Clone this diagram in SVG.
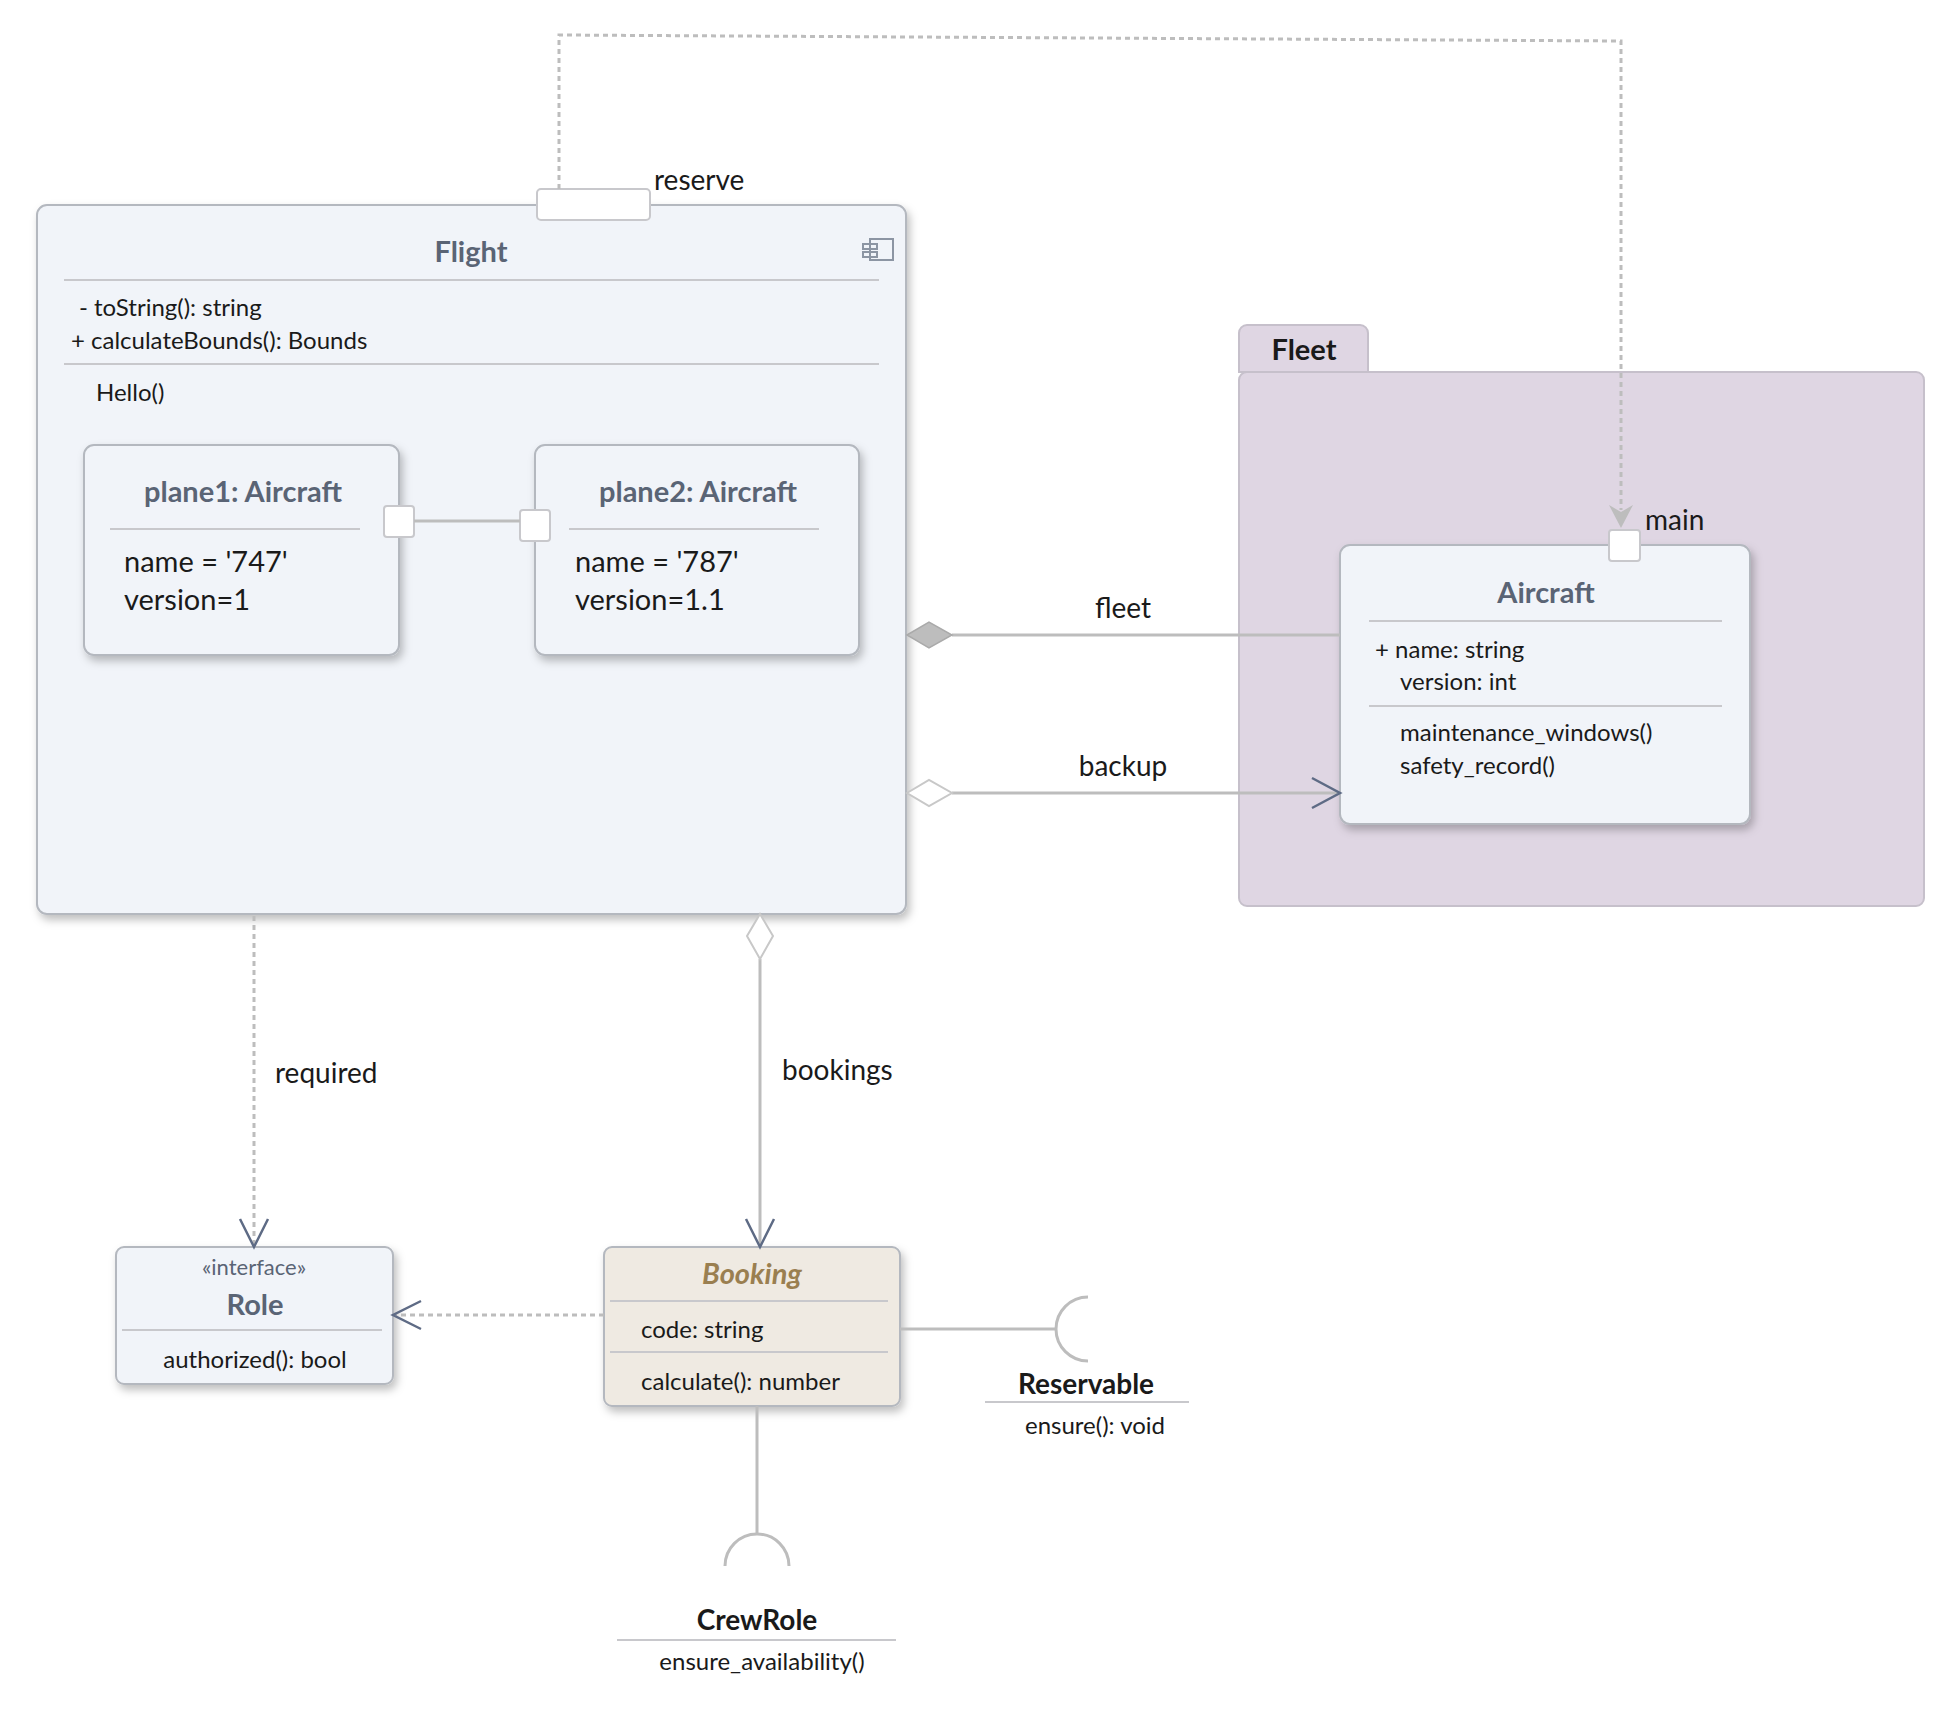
<svg xmlns="http://www.w3.org/2000/svg" width="1954" height="1730" viewBox="0 0 1954 1730">
<style>
text{font-family:Lato,"Noto Sans",sans-serif;fill:#1a1a1a}
.node{fill:#f1f4f9;stroke:#b4b8bf;stroke-width:2}
.t{font-weight:bold;fill:#5a6475;text-anchor:middle}
.sep{stroke:#c8c8cc;stroke-width:2}
.b{font-size:24px}
.big{font-size:29px}
.lbl{font-size:28px}
.con{fill:none;stroke:#bdbdbd;stroke-width:3}
.dash{fill:none;stroke:#bdbdbd;stroke-width:3;stroke-dasharray:5 4}
.port{fill:#fff;stroke:#c8c8cc;stroke-width:2}
.arr{fill:none;stroke:#5e6b85;stroke-width:2.5}
</style>
<defs>
<filter id="sh" x="-10%" y="-10%" width="130%" height="130%"><feDropShadow dx="3" dy="5" stdDeviation="4" flood-color="#000" flood-opacity="0.25"/></filter>
</defs>
<g id="fleet">
<path d="M1239,372 V333 a8,8 0 0 1 8,-8 H1360 a8,8 0 0 1 8,8 V372 Z" fill="#dfd6e3" stroke="#c6c0cb" stroke-width="2"/>
<rect x="1239" y="372" width="685" height="534" rx="8" fill="#dfd6e3" stroke="#c6c0cb" stroke-width="2"/>
<text x="1304" y="360" font-size="29" font-weight="bold" text-anchor="middle">Fleet</text>
</g>
<g id="flight">
<rect class="node" x="37" y="205" width="869" height="709" rx="10" filter="url(#sh)"/>
<text class="t" x="471" y="262" font-size="29">Flight</text>
<g fill="none" stroke="#8c95a3" stroke-width="2"><rect x="870" y="239" width="23" height="21"/><rect x="863" y="244" width="14" height="5"/><rect x="863" y="252" width="14" height="5"/></g>
<line class="sep" x1="64" y1="280" x2="879" y2="280"/>
<text class="b" x="79" y="316">- toString(): string</text>
<text class="b" x="71" y="349">+ calculateBounds(): Bounds</text>
<line class="sep" x1="64" y1="364" x2="879" y2="364"/>
<text class="b" x="96" y="401">Hello()</text>
<rect class="port" x="537" y="189" width="113" height="31" rx="4"/>
<text class="lbl" x="654" y="190">reserve</text>
</g>
<g id="plane1">
<rect class="node" x="84" y="445" width="315" height="210" rx="10" filter="url(#sh)"/>
<text class="t" x="243" y="502" font-size="29">plane1: Aircraft</text>
<line class="sep" x1="110" y1="529" x2="360" y2="529"/>
<text class="big" x="124" y="572">name = '747'</text>
<text class="big" x="124" y="610">version=1</text>
</g>
<g id="plane2">
<rect class="node" x="535" y="445" width="324" height="210" rx="10" filter="url(#sh)"/>
<text class="t" x="698" y="502" font-size="29">plane2: Aircraft</text>
<line class="sep" x1="569" y1="529" x2="819" y2="529"/>
<text class="big" x="575" y="572">name = '787'</text>
<text class="big" x="575" y="610">version=1.1</text>
</g>
<g id="aircraft">
<rect class="node" x="1340" y="545" width="410" height="279" rx="10" filter="url(#sh)"/>
<text class="t" x="1546" y="603" font-size="29">Aircraft</text>
<line class="sep" x1="1369" y1="621" x2="1722" y2="621"/>
<text class="b" x="1375" y="658">+ name: string</text>
<text class="b" x="1400" y="690">version: int</text>
<line class="sep" x1="1369" y1="706" x2="1722" y2="706"/>
<text class="b" x="1400" y="741">maintenance_windows()</text>
<text class="b" x="1400" y="774">safety_record()</text>
<rect class="port" x="1609" y="530" width="31" height="31" rx="3"/>
<text class="lbl" x="1645" y="530">main</text>
</g>
<g id="role">
<rect class="node" x="116" y="1247" width="277" height="137" rx="8" filter="url(#sh)"/>
<text x="254" y="1275" font-size="22" fill="#5a6475" style="fill:#5a6475" text-anchor="middle">«interface»</text>
<text class="t" x="255" y="1315" font-size="29">Role</text>
<line class="sep" x1="122" y1="1330" x2="382" y2="1330"/>
<text class="b" x="255" y="1368" text-anchor="middle">authorized(): bool</text>
</g>
<g id="booking">
<rect x="604" y="1247" width="296" height="159" rx="8" fill="#efeae2" stroke="#b4b8bf" stroke-width="2" filter="url(#sh)"/>
<text x="752" y="1284" font-size="29" font-weight="bold" font-style="italic" text-anchor="middle" style="fill:#9a7f50">Booking</text>
<line class="sep" x1="610" y1="1301" x2="888" y2="1301"/>
<text class="b" x="641" y="1338">code: string</text>
<line class="sep" x1="610" y1="1352" x2="888" y2="1352"/>
<text class="b" x="641" y="1390">calculate(): number</text>
</g>
<g id="reservable">
<path d="M1088,1297 A32,32 0 0 0 1088,1361" class="con"/>
<text x="1086" y="1394" font-size="28" font-weight="bold" text-anchor="middle">Reservable</text>
<line class="sep" x1="985" y1="1402" x2="1189" y2="1402"/>
<text class="b" x="1095" y="1434" text-anchor="middle">ensure(): void</text>
</g>
<g id="crewrole">
<path d="M725,1566 A32,32 0 0 1 789,1566" class="con"/>
<text x="757" y="1630" font-size="28" font-weight="bold" text-anchor="middle">CrewRole</text>
<line class="sep" x1="617" y1="1640" x2="896" y2="1640"/>
<text class="b" x="762" y="1670" text-anchor="middle">ensure_availability()</text>
</g>
<g id="connectors">
<rect class="port" x="384" y="506" width="30" height="31" rx="3"/>
<rect class="port" x="520" y="510" width="30" height="31" rx="3"/>
<line class="con" x1="414" y1="521" x2="520" y2="521"/>
<path class="dash" d="M559,189 V35 L1621,41 V510"/>
<path d="M1609,505 L1621,528 L1633,505 L1621,512 Z" fill="#bdbdbd"/>
<line class="con" x1="952" y1="635" x2="1340" y2="635"/>
<path d="M907,635 L929,622 L952,635 L929,648 Z" fill="#bdbdbd" stroke="#aaa" stroke-width="1.5"/>
<text class="lbl" x="1123" y="618" text-anchor="middle">fleet</text>
<line class="con" x1="952" y1="793" x2="1338" y2="793"/>
<path d="M907,793 L929,780 L952,793 L929,806 Z" fill="#fff" stroke="#c8c8c8" stroke-width="2"/>
<path class="arr" d="M1312,778 L1340,793 L1312,808"/>
<text class="lbl" x="1123" y="776" text-anchor="middle">backup</text>
<line class="con" x1="760" y1="959" x2="760" y2="1245"/>
<path d="M760,914 L773,936 L760,959 L747,936 Z" fill="#fff" stroke="#c8c8c8" stroke-width="2"/>
<path class="arr" d="M746,1219 L760,1247 L774,1219"/>
<text class="lbl" x="782" y="1080">bookings</text>
<line class="dash" x1="254" y1="916" x2="254" y2="1245"/>
<path class="arr" d="M240,1219 L254,1247 L268,1219"/>
<text class="lbl" x="275" y="1083">required</text>
<line class="dash" x1="604" y1="1315" x2="395" y2="1315"/>
<path class="arr" d="M421,1301 L393,1315 L421,1329"/>
<line class="con" x1="900" y1="1329" x2="1056" y2="1329"/>
<line class="con" x1="757" y1="1406" x2="757" y2="1534"/>
</g>
</svg>
